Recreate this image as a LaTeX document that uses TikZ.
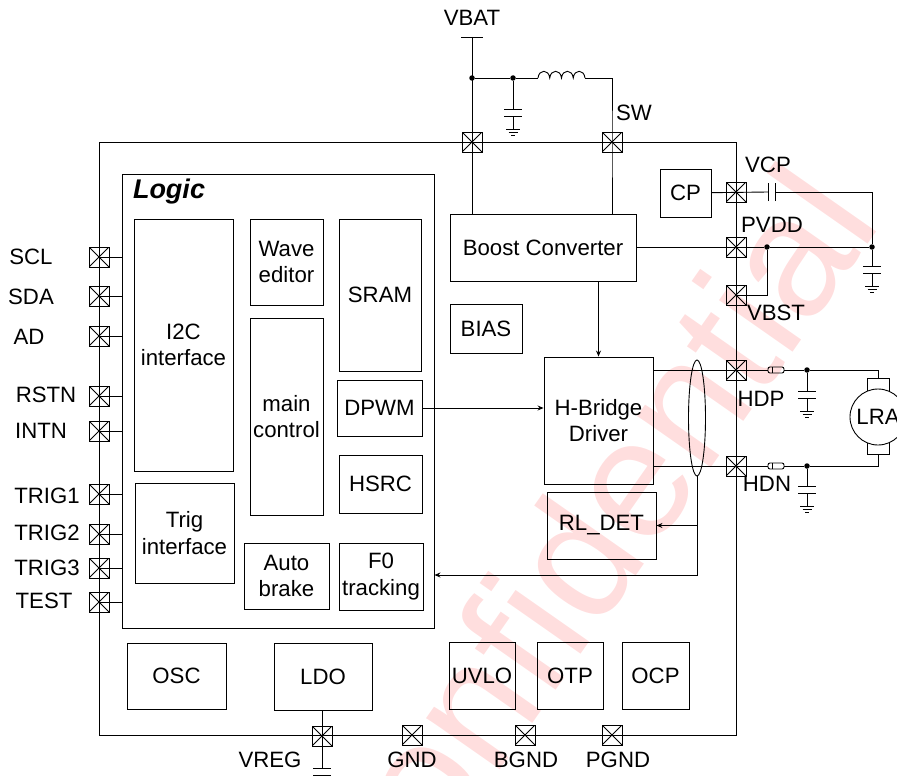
\documentclass[tikz,border=0pt]{standalone}
\usepackage{fontspec}
\setmainfont{Liberation Sans}
\usetikzlibrary{arrows.meta, positioning, shapes.geometric}

\definecolor{wmark}{RGB}{255,222,222}
\tikzset{
   blk/.style 2 args={draw,align=center,inner sep=0pt,minimum width=#1pt,minimum height=#2pt},
   lbl/.style={inner sep=0pt},
   pad/.style={draw,inner sep=0pt,minimum size=20pt,
      path picture={\draw (path picture bounding box.south west) -- (path picture bounding box.north east)
         (path picture bounding box.north west) -- (path picture bounding box.south east);}},
   dot/.style={circle,fill=black,inner sep=0pt,minimum size=5.5pt},
   bead/.style={draw,rounded corners=2pt,inner sep=0pt,minimum width=16pt,minimum height=6pt,
      path picture={\draw ([xshift=4pt]path picture bounding box.south west) -- ([xshift=4pt]path picture bounding box.north west);}},
   capgnd/.pic={
      \coordinate (-top) at (0,0);
      \draw (-9,0) -- (9,0) (-9,7) -- (9,7) (0,7) -- (0,20);
      \draw (-7,20) -- (7,20) (-4.5,23) -- (4.5,23) (-2,26) -- (2,26);
   }
}

\begin{document}
\begin{tikzpicture}[x=1pt,y=-1pt,on grid,line width=0.9pt,>={Stealth[length=6pt,width=5pt]},
      font=\fontsize{22.2}{26.5}\selectfont]
   \clip (0,0) rectangle (897,776);
   \node[text=wmark,rotate=55,anchor=base east,inner sep=0pt,font=\fontsize{170}{170}\selectfont] (conf) at (884,222) {Confidential};

   % outer chip and logic
   \node[blk={637}{593}] (chip) at (417.5,438.5) {};
   \node[blk={312}{454}] (logic) at (278,401) {};
   \node[lbl,font=\fontsize{27}{27}\selectfont\bfseries\itshape] (logict) at (169,192) {Logic};

   \node[blk={99}{252}] (i2c) at (183.5,345) {I2C\\interface};
   \node[blk={99}{100}] (trig) at (184.5,533) {Trig\\interface};
   \node[blk={73}{86}] (wave) at (286.5,262) {Wave\\editor};
   \node[blk={73}{197}] (main) at (286.5,416.5) {main\\control};
   \node[blk={82}{152}] (sram) at (380,295) {SRAM};
   \node[blk={85}{56}] (dpwm) at (379.5,408) {DPWM};
   \node[blk={83}{58}] (hsrc) at (380.5,484) {HSRC};
   \node[blk={85}{66}] (auto) at (286.5,576) {Auto\\brake};
   \node[blk={84}{67}] (fzero) at (381,576.5) {F0\\tracking};

   \node[blk={186}{67}] (boost) at (543,247.5) {Boost Converter};
   \node[blk={72}{49}] (bias) at (486,328.5) {BIAS};
   \node[blk={109}{127}] (hbridge) at (598.5,420.5) {H-Bridge\\Driver};
   \node[blk={109}{67}] (rldet) at (601.5,525.5) {RL\_DET};
   \node[blk={51}{48}] (cp) at (685.5,193) {CP};

   \node[blk={99}{66}] (osc) at (176.5,676) {OSC};
   \node[blk={98}{67}] (ldo) at (323,676.5) {LDO};
   \node[blk={66}{67}] (uvlo) at (482,675.5) {UVLO};
   \node[blk={66}{67}] (otp) at (570,675.5) {OTP};
   \node[blk={67}{67}] (ocp) at (655.5,675.5) {OCP};

   % pads on the left side
   \node[pad] (scl) at (99,257) {};
   \node[pad] (sda) [below=39pt of scl] {};
   \node[pad] (ad) [below=40pt of sda] {};
   \node[pad] (rstn) [below=60pt of ad] {};
   \node[pad] (intn) [below=35pt of rstn] {};
   \node[pad] (trigone) [below=63pt of intn] {};
   \node[pad] (trigtwo) [below=40pt of trigone] {};
   \node[pad] (trigthree) [below=34pt of trigtwo] {};
   \node[pad] (test) [below=34pt of trigthree] {};
   \node[lbl] (sclt) at (31,257) {SCL};
   \node[lbl] (sdat) [below=40pt of sclt] {SDA};
   \node[lbl] (adt) at (29,337) {AD};
   \node[lbl] (rstnt) at (46,395) {RSTN};
   \node[lbl] (intnt) at (41,431) {INTN};
   \node[lbl] (trigonet) at (47,496) {TRIG1};
   \node[lbl] (trigtwot) [below=37pt of trigonet] {TRIG2};
   \node[lbl] (trigthreet) [below=35pt of trigtwot] {TRIG3};
   \node[lbl] (testt) at (44,601) {TEST};
   \foreach \p in {scl,sda,ad,rstn,intn,trigone,trigtwo,trigthree,test}
      \draw (\p.center) -- (\p.center -| logic.west);

   % pads at the top and right
   \node[pad] (vbat) at (472,142) {};
   \node[pad] (sw) [right=140pt of vbat] {};
   \node[pad] (vcp) at (736,192) {};
   \node[pad] (pvdd) [below=55pt of vcp] {};
   \node[pad] (vbst) [below=48pt of pvdd] {};
   \node[pad] (hdp) at (736,370) {};
   \node[pad] (hdn) [below=96pt of hdp] {};

   % pads at the bottom
   \node[pad] (vreg) at (322,736) {};
   \node[pad] (gnd) at (412,735) {};
   \node[pad] (bgnd) [right=113pt of gnd] {};
   \node[pad] (pgnd) [right=87pt of bgnd] {};
   \node[lbl] (vregt) at (270,760) {VREG};
   \node[lbl] (gndt) at (412,760) {GND};
   \node[lbl] (bgndt) at (526,760) {BGND};
   \node[lbl] (pgndt) at (618,760) {PGND};

   % supply and inductor
   \node[lbl] (vbatt) at (472,18) {VBAT};
   \node[lbl] (swt) at (634,113) {SW};
   \coordinate (rail) at (472,37);
   \node[dot] (ja) at (472,78) {};
   \node[dot] (jb) at (513,78) {};
   \coordinate (inda) at (538,78);
   \coordinate (indb) at (585,78);
   \pic (capa) at (513,109) {capgnd};
   \draw ([xshift=-11pt]rail) -- ([xshift=11pt]rail);
   \draw (rail) -- (rail |- boost.north);
   \draw (ja) -- (jb) -- (inda);
   \draw (jb) -- (capa-top);
   \draw (inda) \foreach \k in {1,...,4} { .. controls +(1,-9) and +(-1,-9) .. ++(11.75,0) };
   \draw (indb) -| (sw.center) -- (sw.center |- boost.north);

   % right side of the boost converter
   \node[lbl] (vcpt) at (768,165) {VCP};
   \node[lbl] (pvddt) at (772,225) {PVDD};
   \node[lbl] (vbstt) at (776,313) {VBST};
   \node[dot] (jc) at (767,247) {};
   \node[dot] (jd) at (872,247) {};
   \coordinate (plla) at (768,192);
   \coordinate (pllb) at (775,192);
   \pic (capb) at (872,266) {capgnd};
   \draw (cp) -- (plla);
   \draw ([yshift=-9pt]plla) -- ([yshift=9pt]plla) ([yshift=-9pt]pllb) -- ([yshift=9pt]pllb);
   \draw (pllb) -| (jd);
   \draw (boost.east |- jc) -- (jc) -- (jd) -- (capb-top);
   \draw (jc) |- (vbst.center);

   % outputs and the motor
   \node[lbl] (hdpt) at (761,399) {HDP};
   \node[lbl] (hdnt) at (767,484) {HDN};
   \node[bead] (beada) at (776,370) {};
   \node[bead] (beadb) at (776,466) {};
   \node[dot] (je) at (807,370) {};
   \node[dot] (jf) at (807,466) {};
   \pic (capc) at (807,391) {capgnd};
   \pic (capd) at (807,486) {capgnd};
   \node[blk={22}{14}] (brusha) at (878,385) {};
   \node[blk={22}{14}] (brushb) at (878,447) {};
   \node[circle,draw,fill=white,inner sep=0pt,minimum size=56pt] (lra) at (878,417) {};
   \node[lbl] (lrat) at (878,417) {LRA};
   \draw (hbridge.east |- hdp) -- (beada) -- (je) -| (brusha);
   \draw (hbridge.east |- hdn) -- (beadb) -- (jf) -| (brushb);
   \draw (je) -- (capc-top);
   \draw (jf) -- (capd-top);

   % sense loop
   \node[ellipse,draw,inner sep=0pt,minimum width=17pt,minimum height=116pt] (sense) at (697,418) {};
   \coordinate (turn) at (697,575);
   \draw[->] (boost.south -| hbridge) -- (hbridge);
   \draw[->] (dpwm) -- (hbridge.west |- dpwm);
   \draw[->] (sense.south) -- (turn) -- (logic.east |- turn);
   \draw[->] (rldet.east -| sense.south) -- (rldet.east);

   % VREG
   \coordinate (plta) at (322,768);
   \coordinate (pltb) at (322,775);
   \draw (ldo.south -| vreg) -- (plta);
   \draw ([xshift=-9pt]plta) -- ([xshift=9pt]plta) ([xshift=-9pt]pltb) -- ([xshift=9pt]pltb);
\end{tikzpicture}
\end{document}
